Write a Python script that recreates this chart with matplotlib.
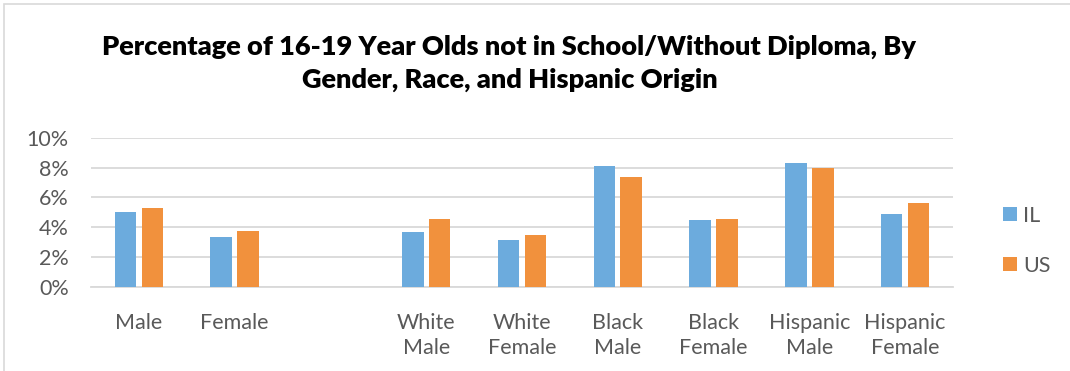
import numpy as np
import matplotlib.pyplot as plt
from matplotlib.patches import Rectangle

plt.rcParams['font.family'] = ['Lato', 'DejaVu Sans']

# Categories (blank slot separates gender totals from race/origin groups)
categories = ['Male', 'Female', '', 'White\nMale', 'White\nFemale', 'Black\nMale',
              'Black\nFemale', 'Hispanic\nMale', 'Hispanic\nFemale']
il_values = [5.0, 3.33, np.nan, 3.7, 3.13, 8.08, 4.47, 8.33, 4.91]
us_values = [5.3, 3.75, np.nan, 4.55, 3.48, 7.35, 4.55, 8.0, 5.6]
y_ticks = [0, 2, 4, 6, 8, 10]

IL_COLOR = '#6cabdd'
US_COLOR = '#f1913d'
TEXT_GRAY = '#595959'

fig = plt.figure(figsize=(10.7, 3.71), dpi=100)
ax = fig.add_axes([91 / 1070, 1 - 287 / 371, 862 / 1070, 149.3 / 371])

x = np.arange(len(categories))
width = 0.225
offset = 0.14
ax.bar(x - offset, il_values, width, color=IL_COLOR, label='IL', zorder=3)
ax.bar(x + offset, us_values, width, color=US_COLOR, label='US', zorder=3)

ax.set_xlim(-0.5, len(categories) - 0.5)
ax.set_ylim(0, 10)
ax.set_yticks(y_ticks)
ax.set_yticklabels([f'{t}%' for t in y_ticks])
ax.set_xticks(x)
ax.set_xticklabels(categories, linespacing=1.3, va='top')
ax.tick_params(axis='both', length=0, labelsize=15.5, colors=TEXT_GRAY)
ax.tick_params(axis='x', pad=19)
ax.tick_params(axis='y', pad=16)
ax.grid(axis='y', color='#d9d9d9', linewidth=1.3, zorder=0)
for side in ['top', 'right', 'left']:
    ax.spines[side].set_visible(False)
ax.spines['bottom'].set_color('#d9d9d9')
ax.spines['bottom'].set_linewidth(1.3)

fig.text(0.476, 1 - 47 / 371, 'Percentage of 16-19 Year Olds not in School/Without Diploma, By',
         ha='center', va='center', fontsize=19.5, fontweight='heavy', color='black')
fig.text(0.476, 1 - 80 / 371, 'Gender, Race, and Hispanic Origin',
         ha='center', va='center', fontsize=19.5, fontweight='heavy', color='black')

leg = ax.legend(loc='center left', bbox_to_anchor=(1.035, 0.31), frameon=False,
                fontsize=15.5, handlelength=0.65, handleheight=0.65, handletextpad=0.3,
                labelspacing=1.4)
for t in leg.get_texts():
    t.set_color(TEXT_GRAY)

# outer chart border
fig.patches.append(Rectangle((4 / 1070, -0.01), 1.02, 1 - 4 / 371 + 0.01,
                             transform=fig.transFigure, fill=False,
                             edgecolor='#d9d9d9', linewidth=1.2))

fig.savefig('out.png', dpi=100, facecolor='white')
